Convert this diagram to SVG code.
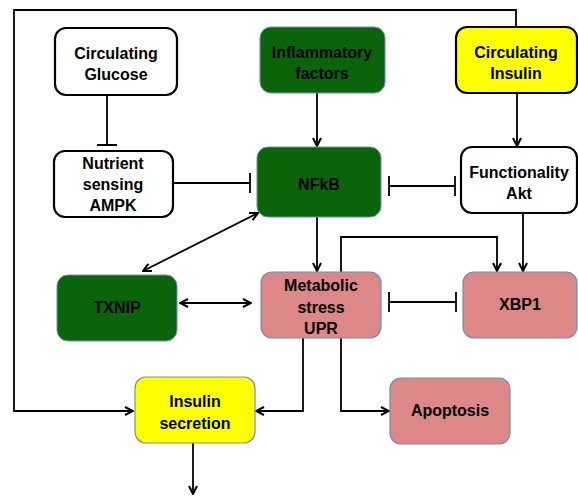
<svg xmlns="http://www.w3.org/2000/svg" width="578" height="496" viewBox="0 0 578 496">
<defs>
<marker id="arr" viewBox="0 0 10 10" refX="9" refY="5" markerWidth="10" markerHeight="10" markerUnits="userSpaceOnUse" orient="auto-start-reverse">
<path d="M1,1 L9,5 L1,9" fill="none" stroke="#000" stroke-width="2"/>
</marker>
</defs>
<style>
.t{font-family:"Liberation Sans",Arial,sans-serif;font-weight:bold;font-size:16px;text-anchor:middle;fill:#000}
.w{fill:#fff;stroke:#000;stroke-width:2.2}
.y{fill:#ffff00;stroke:#000;stroke-width:2.2}
.ys{fill:#ffff00;stroke:#7a8fb0;stroke-width:1.2}
.g{fill:#0a650a;stroke:#6f8fb0;stroke-width:1}
.p{fill:#de8787;stroke:#6f8fb0;stroke-width:1.2}
.c{fill:none;stroke:#000;stroke-width:1.8}
.a{marker-end:url(#arr)}
.b{marker-start:url(#arr);marker-end:url(#arr)}
</style>
<g id="connectors">
<path class="c a" d="M516,27 V10 H14 V411 H133"/>
<path class="c" d="M107,95 V145 M97,145 H117"/>
<path class="c" d="M173,183 H250 M250,173 V193"/>
<path class="c a" d="M317,93 V146"/>
<path class="c a" d="M517,93 V146"/>
<path class="c" d="M389,186 H455 M389,176 V196 M455,176 V196"/>
<path class="c b" d="M258,213 L143,271"/>
<path class="c a" d="M317,217 V271"/>
<path class="c a" d="M341,272 V237 H497 V271"/>
<path class="c a" d="M523,213 V271"/>
<path class="c b" d="M180,303 H251"/>
<path class="c" d="M389,302 H456 M389,292 V312 M456,292 V312"/>
<path class="c a" d="M303,338 V411 H256"/>
<path class="c a" d="M341,338 V411 H389"/>
<path class="c a" d="M193,443 V494"/>
</g>
<g id="glucose"><rect class="w" x="55" y="28" width="122" height="67" rx="11"/><text class="t" x="116" y="59">Circulating</text><text class="t" x="116" y="80">Glucose</text></g>
<g id="inflammatory"><rect class="g" x="260" y="27" width="125" height="66" rx="11"/><text class="t" x="322" y="58">Inflammatory</text><text class="t" x="322" y="79">factors</text></g>
<g id="insulin"><rect class="y" x="456" y="27" width="121" height="66" rx="11"/><text class="t" x="516" y="58">Circulating</text><text class="t" x="516" y="79">Insulin</text></g>
<g id="ampk"><rect class="w" x="54" y="151" width="119" height="66" rx="11"/><text class="t" x="113" y="169">Nutrient</text><text class="t" x="113" y="190">sensing</text><text class="t" x="113" y="211">AMPK</text></g>
<g id="nfkb"><rect class="g" x="257" y="147" width="124" height="70" rx="11"/><text class="t" x="319" y="190">NFkB</text></g>
<g id="akt"><rect class="w" x="461" y="147" width="116" height="66" rx="11"/><text class="t" x="519" y="178">Functionality</text><text class="t" x="519" y="199">Akt</text></g>
<g id="txnip"><rect class="g" x="57" y="275" width="120" height="66" rx="11"/><text class="t" x="117" y="313">TXNIP</text></g>
<g id="upr"><rect class="p" x="261" y="272" width="120" height="66" rx="11"/><text class="t" x="321" y="291">Metabolic</text><text class="t" x="321" y="313">stress</text><text class="t" x="321" y="334">UPR</text></g>
<g id="xbp1"><rect class="p" x="463" y="272" width="114" height="66" rx="11"/><text class="t" x="520" y="310">XBP1</text></g>
<g id="secretion"><rect class="ys" x="135" y="377" width="120" height="66" rx="11"/><text class="t" x="195" y="407">Insulin</text><text class="t" x="195" y="429">secretion</text></g>
<g id="apoptosis"><rect class="p" x="390" y="378" width="120" height="66" rx="11"/><text class="t" x="450" y="416">Apoptosis</text></g>
</svg>
